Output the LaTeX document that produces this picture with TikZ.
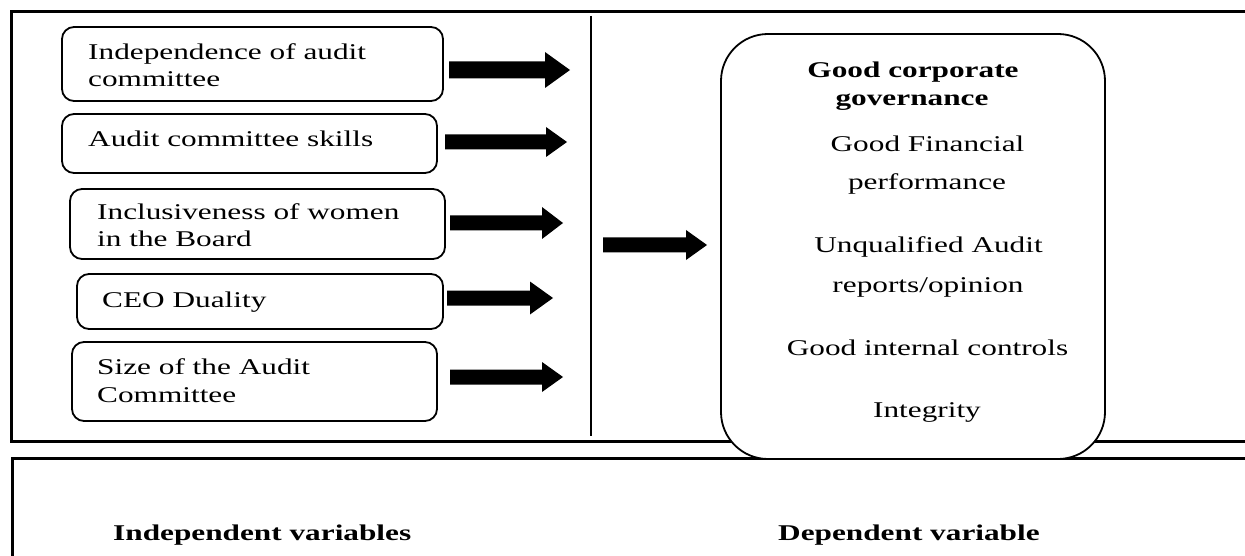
\documentclass[tikz,border=0pt]{standalone}
\usepackage{fontspec}
\setmainfont[FakeStretch=1.39]{Liberation Serif}
\newcommand\fatarrow[7]{%
  \coordinate (#1-s) at (#2,#3);
  \coordinate (#1-t) at (#5,#3);
  \fill[black] (#1-s) ++(0,-#6) -- (#4,#3-#6) -- (#4,#3-#7) -- (#1-t) -- (#4,#3+#7) -- (#4,#3+#6) -- (#2,#3+#6) -- cycle;
}
\begin{document}
\begin{tikzpicture}[x=1pt,y=-1pt,
  frame/.style={draw=black,line width=3pt},
  vbox/.style={draw=black,line width=1.8pt,rounded corners=12pt},
  bigbox/.style={draw=black,fill=white,line width=1.8pt,rounded corners=47pt},
  txt/.style={inner sep=0pt,font=\fontsize{22.5}{27}\selectfont},
  btxt/.style={txt,font=\fontsize{22.5}{27}\selectfont\bfseries}]
\useasboundingbox (0,0) rectangle (1245,556);
\clip (0,0) rectangle (1245,556);
% frames
\draw[frame] (1260,12) -- (11,12) -- (11,441) -- (1260,441);
\draw[frame] (1260,458) -- (12,458) -- (12,570);
\coordinate (dtop) at (591,16);
\coordinate (dbot) at (591,436);
\draw[line width=2pt] (dtop) -- (dbot);
% independent variable boxes
\draw[vbox] (62,27) rectangle (443,101) coordinate (b1);
\draw[vbox] (62,114) rectangle (437,173) coordinate (b2);
\draw[vbox] (70,189) rectangle (445,259) coordinate (b3);
\draw[vbox] (77,274) rectangle (443,329) coordinate (b4);
\draw[vbox] (72,342) rectangle (437,421) coordinate (b5);
\node[txt,anchor=base west] (t1a) at (88,60) {Independence of audit};
\node[txt,anchor=base west] (t1b) at (88,87) {committee};
\node[txt,anchor=base west] (t2) at (88,147) {Audit committee skills};
\node[txt,anchor=base west] (t3a) at (97,220) {Inclusiveness of women};
\node[txt,anchor=base west] (t3b) at (97,247) {in the Board};
\node[txt,anchor=base west] (t4) at (102,307) {CEO Duality};
\node[txt,anchor=base west] (t5a) at (97,374) {Size of the Audit};
\node[txt,anchor=base west] (t5b) at (97,402) {Committee};
% arrows
\fatarrow{a1}{449}{70}{545}{570}{8.5}{18}
\fatarrow{a2}{445}{142}{546}{567}{7.5}{15}
\fatarrow{a3}{450}{223}{542}{563}{7.5}{16}
\fatarrow{a4}{447}{298}{530}{553}{7.5}{16.5}
\fatarrow{a5}{450}{377}{542}{563}{7.5}{15}
\fatarrow{am}{603}{245}{686}{707}{7.5}{15}
% dependent variable box
\draw[bigbox] (721,34) rectangle (1105,459) coordinate (bb);
\node[btxt,anchor=base] (g1) at (913,78) {Good corporate};
\node[btxt,anchor=base] (g2) at (912,106) {governance};
\node[txt,anchor=base] (f1) at (927.5,152) {Good Financial};
\node[txt,anchor=base] (f2) at (927,190) {performance};
\node[txt,anchor=base] (u1) at (928.5,253) {Unqualified Audit};
\node[txt,anchor=base] (u2) at (928,292) {reports/opinion};
\node[txt,anchor=base] (ic) at (927.5,355) {Good internal controls};
\node[txt,anchor=base] (ig) at (927,417) {Integrity};
% bottom labels
\node[btxt,anchor=base west] (liv) at (113,540) {Independent variables};
\node[btxt,anchor=base west] (ldv) at (778,540) {Dependent variable};
\end{tikzpicture}
\end{document}
